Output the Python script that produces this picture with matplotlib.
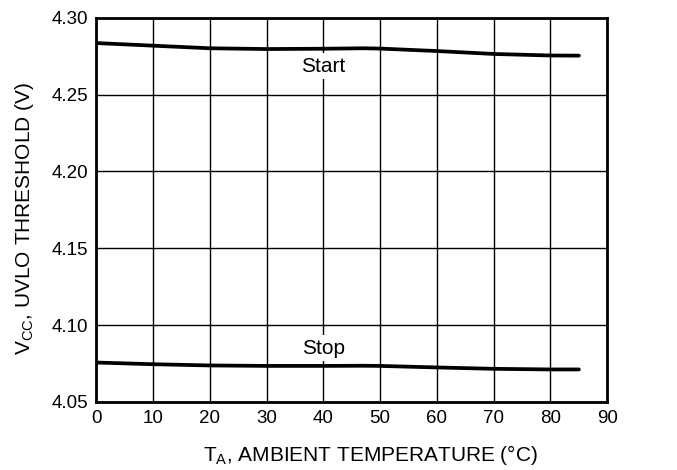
import matplotlib
matplotlib.use("Agg")
import matplotlib.pyplot as plt

plt.rcParams["font.family"] = ["Liberation Sans", "DejaVu Sans"]
plt.rcParams["mathtext.fontset"] = "custom"
plt.rcParams["mathtext.rm"] = "Liberation Sans"
plt.rcParams["mathtext.it"] = "Liberation Sans"
plt.rcParams["mathtext.default"] = "regular"

# UVLO thresholds vs ambient temperature
temp = [0, 10, 20, 30, 40, 47, 50, 60, 70, 80, 85]
v_start = [4.2836, 4.2819, 4.2802, 4.2797, 4.2799, 4.2802, 4.2800, 4.2784, 4.2765, 4.2755, 4.2754]
v_stop = [4.0756, 4.0745, 4.0737, 4.0734, 4.0734, 4.0735, 4.0734, 4.0724, 4.0715, 4.0711, 4.0711]

xticks = list(range(0, 91, 10))
yticks = [4.05, 4.10, 4.15, 4.20, 4.25, 4.30]
ytick_labels = ["4.05", "4.10", "4.15", "4.20", "4.25", "4.30"]

fs = 13.5

fig = plt.figure(figsize=(6.77, 4.70), dpi=100)
ax = fig.add_axes([0.142, 0.145, 0.755, 0.817])

ax.plot(temp, v_start, color="black", lw=2.7, solid_capstyle="round", zorder=3)
ax.plot(temp, v_stop, color="black", lw=2.7, solid_capstyle="round", zorder=3)

box = dict(facecolor="white", edgecolor="none", pad=2.5)
ax.text(40, 4.2685, "Start", ha="center", va="center", fontsize=15, bbox=box, zorder=4)
ax.text(40, 4.0850, "Stop", ha="center", va="center", fontsize=15, bbox=box, zorder=4)

ax.set_xlim(0, 90)
ax.set_ylim(4.05, 4.30)
ax.set_xticks(xticks)
ax.set_yticks(yticks)
ax.set_yticklabels(ytick_labels)
ax.tick_params(length=0, labelsize=fs, pad=6)
ax.grid(True, color="black", lw=1)
ax.set_axisbelow(True)
for sp in ax.spines.values():
    sp.set_linewidth(2)

ax.set_xlabel("T$_A$, AMBIENT TEMPERATURE (°C)", fontsize=15)
ax.set_ylabel("V$_{CC}$, UVLO THRESHOLD (V)", fontsize=15)
ax.xaxis.set_label_coords(0.536, -0.108)
ax.yaxis.set_label_coords(-0.118, 0.477)

fig.savefig("out.png", dpi=100)
